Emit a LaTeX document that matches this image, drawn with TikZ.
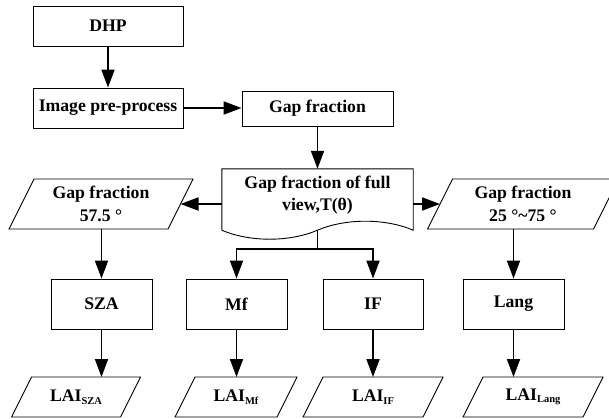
\documentclass[tikz,border=0pt]{standalone}
\usepackage{fontspec}
\setmainfont{Liberation Serif}
\usetikzlibrary{arrows.meta}
\newcommand\subtx[1]{\raisebox{-2.5pt}{\fontsize{10.5}{10.5}\selectfont #1}}
\tikzset{
  outl/.style={draw, line width=0.9pt},
  box/.style={rectangle, draw, line width=0.9pt, inner sep=0pt, font=\bfseries\fontsize{17.7}{22.5}\selectfont, align=center},
  txt/.style={inner sep=0pt, font=\bfseries\fontsize{17.7}{22.5}\selectfont, align=center},
  arr/.style={line width=1.8pt, -{Triangle[length=18pt,width=13pt]}},
  ln/.style={line width=1.8pt}
}
% name, cx, cy, half side, half height, text
\newcommand\mypara[6]{%
  \node[txt] (#1) at (#2,#3) {#6};
  \path (#2,#3) ++(0,-#5) coordinate (#1-n);
  \path (#2,#3) ++(0,#5) coordinate (#1-s);
  \path (#2,#3) ++(#4,0) coordinate (#1-e);
  \path (#2,#3) ++(-#4,0) coordinate (#1-w);
  \draw[outl] (#2,#3) ++({-#4+#5/2},-#5) -- ++({2*#4},0) -- ++({-#5},{2*#5}) -- ++({-2*#4},0) -- cycle;
}
\begin{document}
\begin{tikzpicture}[x=1pt,y=-1pt]
\useasboundingbox (0,0) rectangle (609,418);
\clip (0,0) rectangle (609,418);

\node[box, minimum width=150, minimum height=40] (dhp) at (108,26) {DHP};
\node[box, minimum width=150, minimum height=40] (ipp) at (108,108) {Image pre-process};
\node[box, minimum width=151, minimum height=35] (gf) at (317.5,108.5) {Gap fraction};

\node[inner sep=0pt, minimum width=191, minimum height=61] (doc) at (317.5,199.5) {};
\node[txt] (doctxt) at (317.5,195) {Gap fraction of full\\view,T(θ)};
\draw[outl] (doc.south west) -- (doc.north west) -- (doc.north east) -- (doc.south east)
  .. controls +(-28,-12) and +(28,-12) .. (doc.south)
  .. controls +(-28,12) and +(28,12) .. (doc.south west);

\mypara{p1}{101}{204}{79.5}{25}{Gap fraction\\57.5 °}
\mypara{p2}{523}{204}{83}{25}{Gap fraction\\25 °\textasciitilde 75 °}

\node[box, minimum width=101, minimum height=50] (sza) at (101.5,304) {SZA};
\node[box, minimum width=101, minimum height=50] (mf) at (236.5,304) {Mf};
\node[box, minimum width=100, minimum height=50] (ifb) at (373,304) {IF};
\node[box, minimum width=101, minimum height=50] (lang) at (513.5,304) {Lang};

\mypara{l1}{76}{397}{54.5}{20}{LAI\subtx{SZA}}
\mypara{l2}{236}{397}{51}{20}{LAI\subtx{Mf}}
\mypara{l3}{373}{397}{60}{20}{LAI\subtx{IF}}
\mypara{l4}{533}{397}{60}{20}{LAI\subtx{Lang}}

\draw[arr] (dhp.south) -- (ipp.north);
\draw[arr] (ipp.east) -- (ipp.east -| gf.west);
\draw[arr] (gf.south) -- (doc.north);
\draw[arr] (doc.west |- p1) -- (p1-e);
\draw[arr] (doc.east |- p2) -- (p2-w);
\draw[arr] (sza.north |- p1-s) -- (sza.north);
\draw[arr] (lang.north |- p2-s) -- (lang.north);
\draw[ln] (doc.south) -- ++(0,19) coordinate (split);
\draw[arr] (split) -| (mf.north);
\draw[arr] (split) -| (ifb.north);
\draw[arr] (sza.south) -- (sza.south |- l1-n);
\draw[arr] (mf.south) -- (mf.south |- l2-n);
\draw[arr] (ifb.south) -- (ifb.south |- l3-n);
\draw[arr] (lang.south) -- (lang.south |- l4-n);
\end{tikzpicture}
\end{document}
